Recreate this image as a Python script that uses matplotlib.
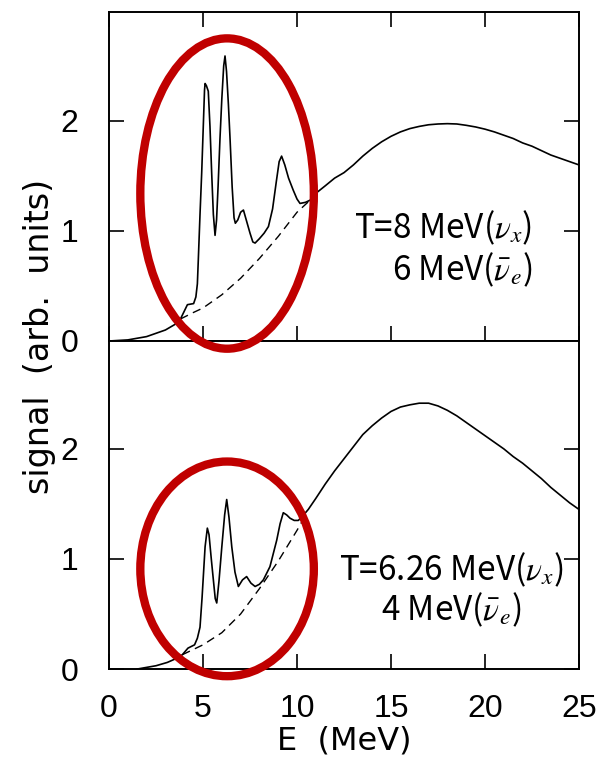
import matplotlib
matplotlib.use("Agg")
import matplotlib.pyplot as plt
import matplotlib.patches as mpatches

plt.rcParams["font.family"] = ["Liberation Sans", "DejaVu Sans"]
plt.rcParams["mathtext.fontset"] = "stix"

# Top panel: T = 8 MeV (nu_x), 6 MeV (anti-nu_e)
top_e = [0.0, 1.0, 2.0, 3.0, 3.5, 3.8, 4.0, 4.17, 4.5, 4.62, 4.7, 4.75, 4.84, 4.93,
         5.02, 5.08, 5.11, 5.18, 5.28, 5.37, 5.46, 5.55, 5.64, 5.72, 5.8, 5.9, 6.0,
         6.1, 6.17, 6.25, 6.35, 6.44, 6.55, 6.65, 6.72, 6.85, 7.0, 7.15, 7.3, 7.5,
         7.65, 7.77, 8.0, 8.25, 8.48, 8.7, 8.9, 9.05, 9.18, 9.35, 9.55, 9.8, 10.0,
         10.16, 10.45, 10.7, 11.06, 11.5, 12.0, 12.5, 13.0, 13.5, 14.0, 14.5, 15.0,
         15.5, 16.0, 16.5, 17.0, 17.5, 18.0, 18.5, 19.0, 19.5, 20.0, 20.5, 21.0,
         21.5, 22.0, 22.5, 23.0, 23.5, 24.0, 24.5, 25.0]
top_signal = [0.0, 0.01, 0.04, 0.1, 0.15, 0.2, 0.27, 0.33, 0.34, 0.4, 0.52, 0.74,
              1.15, 1.53, 1.98, 2.28, 2.34, 2.32, 2.27, 1.95, 1.53, 1.15, 0.96, 1.1,
              1.4, 1.83, 2.2, 2.5, 2.59, 2.45, 2.15, 1.83, 1.4, 1.12, 1.07, 1.1, 1.17,
              1.19, 1.1, 0.98, 0.9, 0.89, 0.93, 0.98, 1.04, 1.2, 1.45, 1.63, 1.68, 1.6,
              1.48, 1.37, 1.29, 1.25, 1.26, 1.28, 1.35, 1.41, 1.48, 1.53, 1.6, 1.68,
              1.75, 1.81, 1.86, 1.9, 1.93, 1.95, 1.965, 1.972, 1.975, 1.972, 1.96,
              1.945, 1.925, 1.9, 1.87, 1.84, 1.8, 1.77, 1.73, 1.69, 1.66, 1.63, 1.6]
top_bg_e = [3.8, 4.5, 5.0, 6.0, 7.0, 8.0, 9.0, 10.0, 10.7]
top_bg = [0.2, 0.26, 0.3, 0.42, 0.57, 0.75, 0.95, 1.17, 1.28]

# Bottom panel: T = 6.26 MeV (nu_x), 4 MeV (anti-nu_e)
bot_e = [1.5, 2.5, 3.1, 3.5, 3.9, 4.2, 4.55, 4.7, 4.84, 4.95, 5.11, 5.23, 5.32,
         5.44, 5.55, 5.65, 5.73, 5.85, 6.0, 6.15, 6.26, 6.38, 6.53, 6.7, 6.88, 7.1,
         7.32, 7.55, 7.77, 8.0, 8.21, 8.56, 8.92, 9.1, 9.27, 9.45, 9.63, 9.85,
         10.07, 10.3, 10.6, 11.0, 11.5, 12.0, 12.5, 13.0, 13.5, 14.0, 14.5, 15.0,
         15.5, 16.0, 16.5, 17.0, 17.5, 18.0, 18.5, 19.0, 19.5, 20.0, 20.5, 21.0,
         21.5, 22.0, 22.5, 23.0, 23.5, 24.0, 24.5, 25.0]
bot_signal = [0.0, 0.03, 0.06, 0.09, 0.13, 0.19, 0.22, 0.28, 0.38, 0.65, 1.11,
              1.28, 1.22, 1.0, 0.81, 0.64, 0.6, 0.8, 1.11, 1.4, 1.54, 1.38, 1.11,
              0.88, 0.75, 0.81, 0.84, 0.78, 0.75, 0.77, 0.81, 0.93, 1.17, 1.32, 1.42,
              1.4, 1.37, 1.35, 1.35, 1.39, 1.45, 1.55, 1.68, 1.8, 1.91, 2.02, 2.13,
              2.21, 2.28, 2.34, 2.38, 2.4, 2.415, 2.415, 2.39, 2.35, 2.3, 2.24, 2.18,
              2.12, 2.06, 2.0, 1.93, 1.87, 1.8, 1.73, 1.65, 1.58, 1.51, 1.45]
bot_bg_e = [3.9, 5.0, 6.0, 7.0, 8.0, 9.0, 10.0, 10.4]
bot_bg = [0.13, 0.22, 0.33, 0.5, 0.73, 0.98, 1.26, 1.38]

x_ticks = [0, 5, 10, 15, 20, 25]
y_ticks = [0, 1, 2]

RED = "#C00000"
TICK_FS = 23
LABEL_FS = 23
NOTE_FS = 24

fig = plt.figure(figsize=(6.01, 7.62), dpi=100)
ax_top = fig.add_axes([0.1814, 0.5525, 0.782, 0.4318])
ax_bot = fig.add_axes([0.1814, 0.122, 0.782, 0.4305])

for ax in (ax_top, ax_bot):
    ax.set_xlim(0, 25)
    ax.set_xticks(x_ticks)
    ax.set_yticks(y_ticks)
    for s in ax.spines.values():
        s.set_linewidth(1.4)
    ax.tick_params(direction="in", length=10.5, width=1.2, labelsize=TICK_FS,
                   right=True, top=(ax is ax_top))
    ax.tick_params(axis="y", pad=22)
    ax.tick_params(axis="x", pad=18)

ax_top.set_ylim(0, 2.99)
ax_bot.set_ylim(0, 2.98)
ax_top.tick_params(labelbottom=False)

ax_top.plot(top_e, top_signal, color="black", lw=1.2)
ax_top.plot(top_bg_e, top_bg, color="black", lw=1.0, dashes=(6, 4))
ax_bot.plot(bot_e, bot_signal, color="black", lw=1.2)
ax_bot.plot(bot_bg_e, bot_bg, color="black", lw=1.0, dashes=(6, 4))

note_font = ["Noto Sans CJK JP", "DejaVu Sans"]
ax_top.text(22.5, 1.03, r"T=8 MeV($\nu_x$)", ha="right", va="center",
            fontsize=NOTE_FS, family=note_font)
ax_top.text(22.5, 0.65, r"6 MeV($\bar{\nu}_e$)", ha="right", va="center",
            fontsize=NOTE_FS, family=note_font)
ax_bot.text(18.2, 0.9, r"T=6.26 MeV($\nu_x$)", ha="center", va="center",
            fontsize=NOTE_FS, family=note_font)
ax_bot.text(18.2, 0.54, r"4 MeV($\bar{\nu}_e$)", ha="center", va="center",
            fontsize=NOTE_FS, family=note_font)

# red highlight ellipses, drawn at figure level so they can cross the frame
fig.add_artist(mpatches.Ellipse((6.28, 1.34), 9.23, 2.82, transform=ax_top.transData,
                                fill=False, edgecolor=RED, lw=6))
fig.add_artist(mpatches.Ellipse((6.28, 0.91), 9.23, 1.95, transform=ax_bot.transData,
                                fill=False, edgecolor=RED, lw=6))

ax_bot.set_xlabel("E  (MeV)", fontsize=LABEL_FS, family="DejaVu Sans", labelpad=1)
fig.text(40 / 601, 1 - 336 / 762, "signal  (arb.  units)", rotation=90,
         ha="center", va="center", fontsize=LABEL_FS + 1, family="DejaVu Sans")

fig.savefig("out.png", dpi=100)
